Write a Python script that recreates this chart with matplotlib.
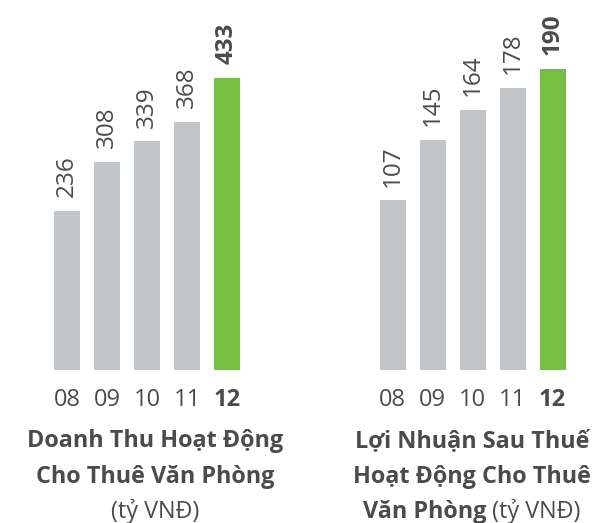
import matplotlib
matplotlib.use("Agg")
import matplotlib.pyplot as plt

years = ["08", "09", "10", "11", "12"]
revenue = [236, 308, 339, 368, 433]
profit = [107, 145, 164, 178, 190]

GREY = "#c2c6c9"
GREEN = "#75bf43"
TXT = "#4b4b4d"
FONT = "Open Sans"
plt.rcParams['font.family'] = [FONT, 'DejaVu Sans']

W, H = 603, 523
fig = plt.figure(figsize=(W / 100, H / 100), dpi=100)

def px_axes(x0, width, base, height):
    return fig.add_axes([x0 / W, (H - base) / H, width / W, height / H])

def draw(ax, vals, ymax):
    xs = range(len(vals))
    colors = [GREY] * (len(vals) - 1) + [GREEN]
    ax.bar(xs, vals, width=0.65, color=colors)
    ax.set_xlim(-0.5, len(vals) - 0.5)
    ax.set_ylim(0, ymax)
    for i, v in enumerate(vals):
        ax.annotate(str(v), (i, v), xytext=(0, 10), textcoords="offset points",
                    rotation=90, ha="center", va="bottom", fontsize=17.5,
                    color=TXT, fontweight="bold" if i == len(vals) - 1 else "normal")
    ax.set_xticks(list(xs))
    ax.set_xticklabels(years, fontsize=17, color=TXT)
    ax.get_xticklabels()[-1].set_fontweight("bold")
    ax.tick_params(axis="x", length=0, pad=13)
    ax.set_yticks([])
    for s in ax.spines.values():
        s.set_visible(False)

ax1 = px_axes(47, 200, 370, 370)
draw(ax1, revenue, 433 * 370 / 292)
ax2 = px_axes(372.5, 200, 370, 370)
draw(ax2, profit, 190 * 370 / 301)

def t(x, y, s, bold=True, ha="center"):
    return fig.text(x / W, 1 - y / H, s, ha=ha, va="center", fontsize=16.8,
                    color=TXT, fontweight="bold" if bold else "normal")

t(155, 441, "Doanh Thu Hoạt Động")
t(155, 477, "Cho Thuê Văn Phòng")
t(155, 512, "(tỷ VNĐ)", bold=False)

t(472, 441, "Lợi Nhuận Sau Thuế")
t(472, 477, "Hoạt Động Cho Thuê")
# mixed weight last line
fig.canvas.draw()
r = fig.canvas.get_renderer()
a = t(0, 512, "Văn Phòng", ha="left")
b = t(0, 512, " (tỷ VNĐ)", bold=False, ha="left")
wa = a.get_window_extent(r).width
wb = b.get_window_extent(r).width
start = 472 - (wa + wb) / 2
a.set_x(start / W)
b.set_x((start + wa) / W)

fig.savefig("out.png", dpi=100)
